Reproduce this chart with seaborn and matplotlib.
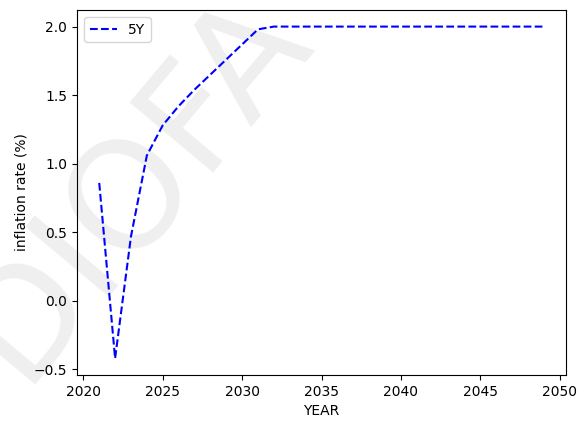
import matplotlib
matplotlib.use("Agg")
import matplotlib.pyplot as plt
import seaborn as sns
import pandas as pd

# Projected inflation path (5Y scenario)
years = list(range(2021, 2050))
inflation_5y = [0.86, -0.42, 0.47, 1.06, 1.28, 1.42, 1.54, 1.65, 1.76, 1.87, 1.98] + [2.0] * 18
series_label = "5Y"
x_label = "YEAR"
y_label = "inflation rate (%)"
watermark = "DIOFA"

df = pd.DataFrame({"year": years, "rate": inflation_5y})

fig = plt.figure(figsize=(5.87, 4.23), dpi=100)
ax = fig.add_axes([77 / 587, 48 / 423, (566 - 77) / 587, (375 - 10) / 423])
ax.set_facecolor("none")

sns.lineplot(data=df, x="year", y="rate", ax=ax, color="blue",
             linestyle="--", linewidth=1.5, label=series_label)

ax.set_xlabel(x_label)
ax.set_ylabel(y_label)
ax.set_xticks([2020, 2025, 2030, 2035, 2040, 2045, 2050])
ax.set_yticks([-0.5, 0.0, 0.5, 1.0, 1.5, 2.0])
ax.legend(loc="upper left")

# faint diagonal watermark behind the axes
fig.text(21 / 587, 1 - 385 / 423, watermark, fontsize=108, color="#efefef",
         rotation=50, rotation_mode="anchor", ha="left", va="baseline",
         zorder=-1)

fig.savefig("out.png", dpi=100)
